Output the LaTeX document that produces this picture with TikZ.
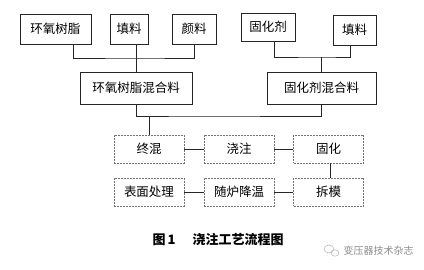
\documentclass[tikz,border=0pt]{standalone}
\usepackage{fontspec}
\setmainfont{Noto Sans CJK SC}
\usetikzlibrary{positioning,calc}

\begin{document}
\begin{tikzpicture}[x=1pt,y=-1pt,
    box/.style={draw=black!85, line width=0.9pt, minimum height=30pt, inner sep=0pt, font=\fontsize{12.5}{14}\selectfont},
    dbox/.style={draw=black!55, dashed, dash pattern=on 2pt off 1pt, line width=0.6pt, minimum width=70pt, minimum height=28pt, inner sep=0pt, font=\fontsize{12.5}{14}\selectfont},
    link/.style={draw=black!85, line width=0.9pt}]
    % Page frame
    \useasboundingbox (0,0) rectangle (424,269);

    % Raw materials
    \node[box, minimum width=71pt] (resin) at (55.5,29) {环氧树脂};
    \node[box, minimum width=38pt] (filler) at (129,29) {填料};
    \node[box, minimum width=44pt] (pigment) at (194,29) {颜料};
    \node[box, minimum width=54pt, minimum height=28pt] (hardener) at (268,27) {固化剂};
    \node[box, minimum width=43pt] (fillerB) at (354.5,30) {填料};

    % Mixtures
    \node[box, minimum width=112pt, minimum height=32pt] (resinMix) at (136,88) {环氧树脂混合料};
    \node[box, minimum width=109pt, minimum height=32pt] (hardMix) at (321.5,88) {固化剂混合料};

    % Process steps
    \node[dbox] (finalMix) at (149,149) {终混};
    \node[dbox] (casting) at (239,149) {浇注};
    \node[dbox] (curing) at (328.5,149) {固化};
    \node[dbox] (surface) at (149,192) {表面处理};
    \node[dbox] (cooling) at (239,192) {随炉降温};
    \node[dbox] (demould) at (328.5,192) {拆模};

    % Junctions
    \coordinate (jResin) at (136,58);
    \coordinate (jHard) at (321.5,57);
    \coordinate (jMix) at (200,116);

    % Connectors
    \draw[link] ([xshift=18pt]resin.south) |- (jResin) -| (pigment.south);
    \draw[link] (resinMix.north |- filler.south) -- (resinMix.north);
    \draw[link] ([xshift=6pt]hardener.south) |- (jHard) -| ([xshift=-4pt]fillerB.south);
    \draw[link] (jHard) -- (hardMix.north);
    \draw[link] (resinMix.south) |- (jMix) -| (hardMix.south);
    \draw[link] (jMix -| finalMix.north) -- (finalMix.north);
    \draw[link] (finalMix.east) -- (casting.west);
    \draw[link] (casting.east) -- (curing.west);
    \draw[link] ([xshift=2pt]curing.south) -- ([xshift=2pt]demould.north);
    \draw[link] (demould.west) -- (cooling.east);
    \draw[link] (cooling.west) -- (surface.east);

    % Caption
    \node[font=\bfseries\fontsize{13}{15}\selectfont, anchor=west] (caption) at (149,240) {图\,1\hspace{1.3em}浇注工艺流程图};

    % Watermark
    \draw[black!30, line width=0.5pt] (329,249) ellipse (5pt and 4pt);
    \draw[black!30, line width=0.5pt] (335,253) ellipse (4pt and 3.2pt);
    \node[font=\fontsize{10}{12}\selectfont, text=black!45, anchor=west] (mark) at (340,251) {变压器技术杂志};
\end{tikzpicture}
\end{document}
